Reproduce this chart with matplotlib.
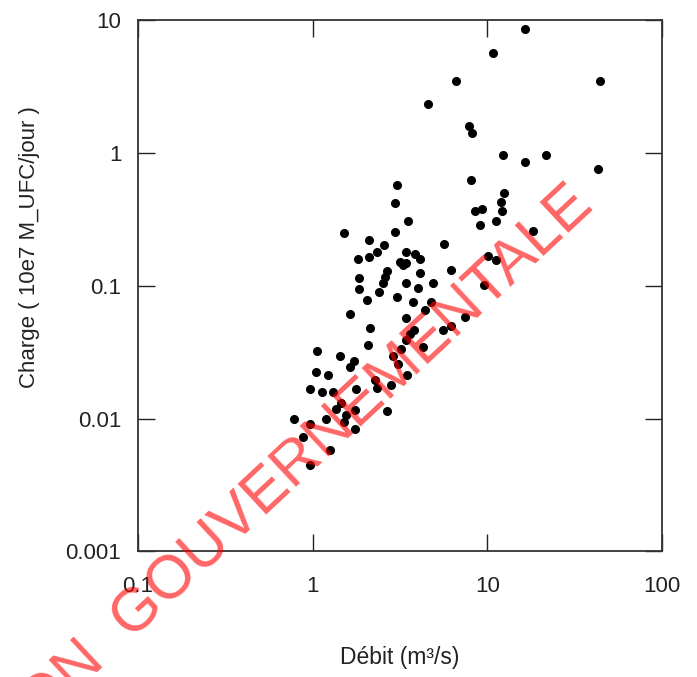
import matplotlib
matplotlib.use("Agg")
import matplotlib.pyplot as plt
import numpy as np

plt.rcParams['font.family'] = ['Liberation Sans', 'DejaVu Sans']

# Débit (m3/s)
debit = [16.47, 10.80, 6.60, 44.1, 4.54, 7.83, 8.12, 12.32, 21.56, 16.34,
         43.15, 8.01, 12.48, 11.90, 12.16, 8.45, 9.34, 11.19, 9.06, 3.49,
         18.16, 5.61, 10.07, 11.19, 3.44, 3.84, 4.10, 3.15, 3.44, 3.28,
         6.18, 4.10, 9.59, 3.44, 3.98, 4.85, 3.02, 3.73, 4.73, 4.38,
         7.43, 3.41, 6.18, 5.58, 3.82, 3.60, 3.44, 3.22, 4.29, 2.87,
         3.08, 3.46, 2.95, 1.505, 2.10, 2.55, 2.32, 2.10, 1.82, 2.67,
         2.59, 2.51, 2.40, 1.835, 1.835, 2.05, 1.64, 2.14, 3.04, 2.95,
         2.06, 1.06, 1.43, 1.72, 1.64, 1.04, 1.224, 0.97, 1.13, 1.307,
         1.764, 2.27, 2.32, 2.82, 2.67, 1.46, 1.355, 1.56, 1.74, 1.505,
         1.74, 0.778, 0.97, 1.198, 0.88, 1.25, 0.97]
# Charge (10e7 M_UFC/jour)
charge = [8.49, 5.64, 3.49, 3.49, 2.35, 1.60, 1.415, 0.961, 0.961, 0.851,
          0.754, 0.626, 0.497, 0.427, 0.367, 0.367, 0.378, 0.307, 0.288, 0.307,
          0.257, 0.207, 0.168, 0.156, 0.180, 0.173, 0.160, 0.152, 0.149, 0.142,
          0.131, 0.125, 0.101, 0.105, 0.0956, 0.105, 0.0826, 0.0757, 0.0757, 0.0656,
          0.0586, 0.0576, 0.0497, 0.0464, 0.0468, 0.0433, 0.0390, 0.0332, 0.0347, 0.0298,
          0.0259, 0.0212, 0.255, 0.248, 0.221, 0.2015, 0.1786, 0.1637, 0.158, 0.130,
          0.1157, 0.1042, 0.0901, 0.1143, 0.0949, 0.078, 0.0609, 0.0478, 0.574, 0.418,
          0.0357, 0.0324, 0.0297, 0.0272, 0.0245, 0.0225, 0.0213, 0.01666, 0.0158, 0.0159,
          0.0167, 0.0195, 0.01686, 0.0180, 0.01143, 0.0130, 0.01171, 0.0106, 0.0117, 0.00944,
          0.00842, 0.0100, 0.00918, 0.0100, 0.00728, 0.00585, 0.00445]

xticks = [0.1, 1, 10, 100]
xticklabels = ['0.1', '1', '10', '100']
yticks = [0.001, 0.01, 0.1, 1, 10]
yticklabels = ['0.001', '0.01', '0.1', '1', '10']

fig = plt.figure(figsize=(6.97, 6.77), dpi=100)
ax = fig.add_axes([0.198, 0.1854, 0.752, 0.7851])

ax.plot(debit, charge, 'o', color='black', markersize=5.5, linestyle='none')

ax.set_xscale('log')
ax.set_yscale('log')
ax.set_xlim(0.1, 100)
ax.set_ylim(0.001, 10)
ax.set_xticks(xticks)
ax.set_xticklabels(xticklabels)
ax.set_yticks(yticks)
ax.set_yticklabels(yticklabels)
ax.minorticks_off()
ax.tick_params(which='major', direction='in', length=12, width=1.0,
               top=True, right=True, labelsize=16, color='#222222',
               labelcolor='#222222')
ax.tick_params(axis='y', pad=12)
ax.tick_params(axis='x', pad=17.5)
for s in ax.spines.values():
    s.set_linewidth(1.3)
    s.set_color('#333333')

ax.set_xlabel('Débit (m³/s)', fontsize=16.5, color='#222222')
ax.set_ylabel('Charge ( 10e7 M_UFC/jour )', fontsize=16, color='#222222')
ax.xaxis.set_label_coords(0.50, -0.200)
ax.yaxis.set_label_coords(-0.207, 0.573)
ax.xaxis.label.set_va('center')
ax.yaxis.label.set_va('center')

fig.text(0.854, 0.692, 'NON  GOUVERNEMENTALE', rotation=43, rotation_mode='anchor',
         ha='right', va='baseline', fontsize=44, color='red', alpha=0.6)

fig.savefig('out.png', dpi=100)
